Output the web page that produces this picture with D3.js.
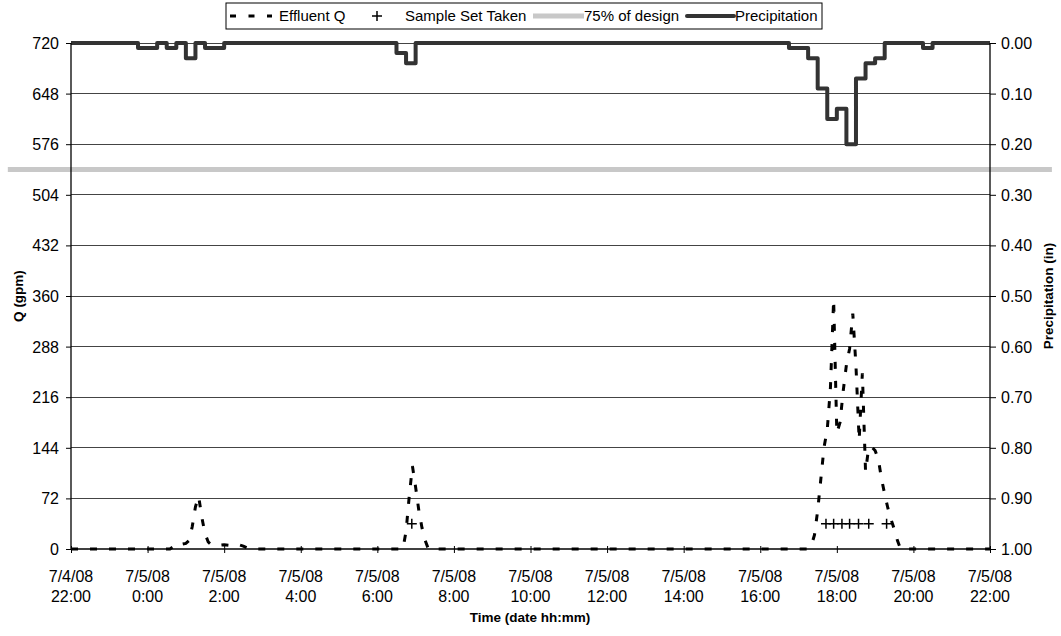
<!DOCTYPE html>
<html><head><meta charset="utf-8">
<script src="https://cdn.jsdelivr.net/npm/d3@7"></script>
<style>
body{margin:0;background:#fff}
svg{display:block}
text{font-family:"Liberation Sans",Arial,sans-serif;fill:#000}
</style>
</head><body>
<svg id="c" width="1061" height="636"></svg>
<script>
// ---------- DATA ----------
const qTimes = [
 "2008-07-04 22:00","2008-07-05 00:35","2008-07-05 00:40","2008-07-05 00:45","2008-07-05 00:50","2008-07-05 00:55",
 "2008-07-05 01:00","2008-07-05 01:05","2008-07-05 01:10","2008-07-05 01:15","2008-07-05 01:20","2008-07-05 01:25",
 "2008-07-05 01:30","2008-07-05 01:35","2008-07-05 01:40","2008-07-05 01:50","2008-07-05 02:00","2008-07-05 02:10",
 "2008-07-05 02:20","2008-07-05 02:30","2008-07-05 02:40",
 "2008-07-05 06:40","2008-07-05 06:45","2008-07-05 06:50","2008-07-05 06:55","2008-07-05 07:00","2008-07-05 07:05",
 "2008-07-05 07:10","2008-07-05 07:15","2008-07-05 07:20",
 "2008-07-05 17:15","2008-07-05 17:20","2008-07-05 17:25","2008-07-05 17:30","2008-07-05 17:35","2008-07-05 17:40",
 "2008-07-05 17:45","2008-07-05 17:50","2008-07-05 17:55","2008-07-05 18:00","2008-07-05 18:05","2008-07-05 18:10",
 "2008-07-05 18:15","2008-07-05 18:20","2008-07-05 18:25","2008-07-05 18:30","2008-07-05 18:35","2008-07-05 18:40",
 "2008-07-05 18:45","2008-07-05 18:50","2008-07-05 18:55","2008-07-05 19:00","2008-07-05 19:05","2008-07-05 19:10",
 "2008-07-05 19:15","2008-07-05 19:20","2008-07-05 19:25","2008-07-05 19:30","2008-07-05 19:35","2008-07-05 19:40",
 "2008-07-05 22:00"
];
const qValues = [
 0,0,3,8,8,7,
 8,12,32,60,75,45,
 22,10,6,5,6,5,
 7,4,0,
 0,25,75,118,88,55,
 30,12,0,
 0,5,20,55,100,145,
 170,230,355,165,180,225,
 262,285,335,260,155,250,
 110,145,145,140,128,100,
 78,58,42,28,12,0,
 0
];
const sampleTimes = ["2008-07-05 06:54","2008-07-05 17:43","2008-07-05 17:55","2008-07-05 18:08",
 "2008-07-05 18:20","2008-07-05 18:34","2008-07-05 18:50","2008-07-05 19:18"];
const sampleValues = [36,36,36,36,36,36,36,36];

const precipTimes = [
 "2008-07-04 22:00","2008-07-04 23:45","2008-07-05 00:15","2008-07-05 00:30","2008-07-05 00:45","2008-07-05 01:00",
 "2008-07-05 01:15","2008-07-05 01:30","2008-07-05 02:00","2008-07-05 06:30","2008-07-05 06:45","2008-07-05 07:00",
 "2008-07-05 16:45","2008-07-05 17:15","2008-07-05 17:30","2008-07-05 17:45","2008-07-05 18:00","2008-07-05 18:15",
 "2008-07-05 18:30","2008-07-05 18:45","2008-07-05 19:00","2008-07-05 19:15","2008-07-05 20:15","2008-07-05 20:30",
 "2008-07-05 22:00"
];
const precipValues = [
 0,0.01,0,0.01,0,0.03,
 0,0.01,0,0.02,0.04,0,
 0.01,0.03,0.09,0.15,0.13,0.20,
 0.07,0.04,0.03,0,0.01,0,
 0
];
const designTimes = ["2008-07-04 20:21","2008-07-05 23:37"];
const designValues = [540,540];

const qTicks = [0,72,144,216,288,360,432,504,576,648,720];
const precipTicks = [0,0.1,0.2,0.3,0.4,0.5,0.6,0.7,0.8,0.9,1.0];
const xTickTimes = ["2008-07-04 22:00","2008-07-05 00:00","2008-07-05 02:00","2008-07-05 04:00","2008-07-05 06:00",
 "2008-07-05 08:00","2008-07-05 10:00","2008-07-05 12:00","2008-07-05 14:00","2008-07-05 16:00","2008-07-05 18:00",
 "2008-07-05 20:00","2008-07-05 22:00"];
const xTickDates = ["7/4/08","7/5/08","7/5/08","7/5/08","7/5/08","7/5/08","7/5/08","7/5/08","7/5/08","7/5/08","7/5/08","7/5/08","7/5/08"];
const xTickHours = ["22:00","0:00","2:00","4:00","6:00","8:00","10:00","12:00","14:00","16:00","18:00","20:00","22:00"];

// ---------- CHART ----------
const parse = d3.timeParse("%Y-%m-%d %H:%M");
const L = 71, R = 990, T = 43, B = 549;
const svg = d3.select("#c");

const x = d3.scaleTime().domain([parse(xTickTimes[0]), parse(xTickTimes[xTickTimes.length-1])]).range([L, R]);
const yQ = d3.scaleLinear().domain([0, 720]).range([B, T]);
const yP = d3.scaleLinear().domain([0, 1]).range([T, B]);

const qData = qTimes.map((t,i)=>({t:parse(t), v:qValues[i]}));
const pData = precipTimes.map((t,i)=>({t:parse(t), v:precipValues[i]}));
const sData = sampleTimes.map((t,i)=>({t:parse(t), v:sampleValues[i]}));
const dData = designTimes.map((t,i)=>({t:parse(t), v:designValues[i]}));

// gridlines
svg.append("g").selectAll("line").data(qTicks.filter(d=>d>0)).join("line")
  .attr("x1", L).attr("x2", R).attr("y1", d=>yQ(d)).attr("y2", d=>yQ(d))
  .attr("stroke", "#444").attr("stroke-width", 1).attr("shape-rendering","crispEdges");

// design line
svg.append("path").datum(dData)
  .attr("d", d3.line().x(d=>x(d.t)).y(d=>yQ(d.v)))
  .attr("fill","none").attr("stroke","#c8c8c8").attr("stroke-width",5);

// precipitation
svg.append("path").datum(pData)
  .attr("d", d3.line().curve(d3.curveStepAfter).x(d=>x(d.t)).y(d=>yP(d.v)))
  .attr("fill","none").attr("stroke","#333").attr("stroke-width",4).attr("stroke-linejoin","round");

// effluent Q
svg.append("path").datum(qData)
  .attr("d", d3.line().x(d=>x(d.t)).y(d=>yQ(d.v)))
  .attr("fill","none").attr("stroke","#000").attr("stroke-width",3).attr("stroke-dasharray","7,12");

// axes
const gL = svg.append("g").attr("transform",`translate(${L},0)`)
  .call(d3.axisLeft(yQ).tickValues(qTicks).tickSize(5).tickFormat(d3.format("d")));
const gR = svg.append("g").attr("transform",`translate(${R},0)`)
  .call(d3.axisRight(yP).tickValues(precipTicks).tickSize(6).tickFormat(d3.format(".2f")));
const gB = svg.append("g").attr("transform",`translate(0,${B})`)
  .call(d3.axisBottom(x).tickValues(xTickTimes.map(parse)).tickSize(4).tickFormat(""));
[gL,gR,gB].forEach(g=>{
  g.select(".domain").attr("stroke","#000").attr("stroke-width",1.3);
  g.selectAll(".tick line").attr("stroke","#000");
  g.selectAll("text").style("font-size","16px").attr("fill","#000");
});
gL.select(".domain").attr("d",`M0,${T}V${B}`);
gR.select(".domain").attr("d",`M0,${T}V${B}`);
gB.select(".domain").attr("d",`M${L},0H${R}`);
gB.selectAll(".tick line").attr("y1",-3).attr("y2",4);
gL.selectAll("text").attr("x",-12).attr("dy","0.34em");
gR.selectAll("text").attr("x",11).attr("dy","0.34em");

// x tick labels (two lines)
const xl = svg.append("g");
xTickTimes.forEach((t,i)=>{
  const tx = xl.append("text").attr("x", x(parse(t))).attr("text-anchor","middle").style("font-size","16px");
  tx.append("tspan").attr("x", x(parse(t))).attr("y", 582).text(xTickDates[i]);
  tx.append("tspan").attr("x", x(parse(t))).attr("y", 602).text(xTickHours[i]);
});

// samples (+)
const sg = svg.append("g");
sg.selectAll("path").data(sData).join("path")
  .attr("d", d=>{const cx=x(d.t), cy=yQ(d.v); return `M${cx-5},${cy}H${cx+5}M${cx},${cy-5}V${cy+5}`;})
  .attr("stroke","#000").attr("stroke-width",1.5).attr("fill","none");

// axis titles
svg.append("text").attr("transform","translate(18,296) rotate(-90)").attr("text-anchor","middle")
  .attr("dy","0.35em").style("font-size","13.5px").style("font-weight","bold").text("Q (gpm)");
svg.append("text").attr("transform","translate(1048,296) rotate(-90)").attr("text-anchor","middle")
  .attr("dy","0.35em").style("font-size","13.5px").style("font-weight","bold").text("Precipitation (in)");
svg.append("text").attr("x",530).attr("y",622).attr("text-anchor","middle")
  .style("font-size","13.5px").style("font-weight","bold").text("Time (date hh:mm)");

// legend
const lg = svg.append("g");
lg.append("rect").attr("x",226).attr("y",3).attr("width",596).attr("height",26)
  .attr("fill","#fff").attr("stroke","#000").attr("stroke-width",1);
const ly = 16;
lg.append("line").attr("x1",230).attr("x2",272).attr("y1",ly).attr("y2",ly)
  .attr("stroke","#000").attr("stroke-width",3).attr("stroke-dasharray","6,12.5");
lg.append("text").attr("x",279).attr("y",ly).attr("dy","0.35em").style("font-size","15px").text("Effluent Q");
lg.append("path").attr("d",`M${372},${ly}H${382}M${377},${ly-5}V${ly+5}`).attr("stroke","#000").attr("stroke-width",1.5);
lg.append("text").attr("x",405).attr("y",ly).attr("dy","0.35em").style("font-size","15px").text("Sample Set Taken");
lg.append("line").attr("x1",533).attr("x2",584).attr("y1",ly).attr("y2",ly).attr("stroke","#c8c8c8").attr("stroke-width",5);
lg.append("text").attr("x",584).attr("y",ly).attr("dy","0.35em").style("font-size","15px").text("75% of design");
lg.append("line").attr("x1",687).attr("x2",734).attr("y1",ly).attr("y2",ly).attr("stroke","#333").attr("stroke-width",4).attr("stroke-linecap","round");
lg.append("text").attr("x",735).attr("y",ly).attr("dy","0.35em").style("font-size","15px").text("Precipitation");
</script>
</body></html>
